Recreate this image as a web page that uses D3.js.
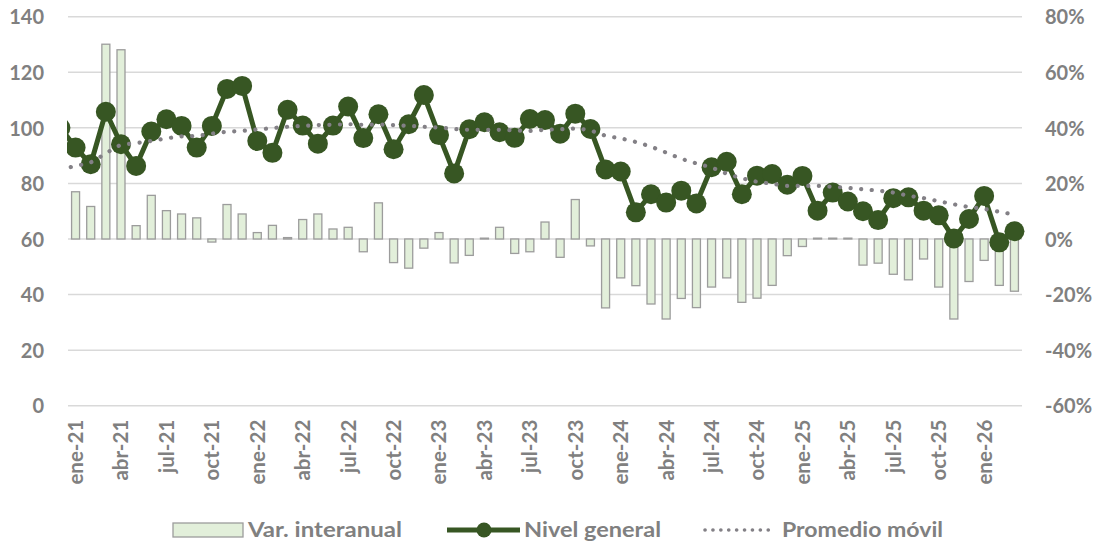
<!DOCTYPE html>
<html><head><meta charset="utf-8">
<script src="https://cdn.jsdelivr.net/npm/d3@7"></script>
<style>
body{margin:0;background:#fff;}
svg{display:block;}
text{font-family:Lato,"Open Sans",sans-serif;font-weight:700;fill:#808080;}
</style>
</head><body>
<svg id="chart" width="1101" height="544"></svg>
<script>
// ---- data ----
const months = [
 "ene-21","feb-21","mar-21","abr-21","may-21","jun-21","jul-21","ago-21","sep-21","oct-21","nov-21","dic-21",
 "ene-22","feb-22","mar-22","abr-22","may-22","jun-22","jul-22","ago-22","sep-22","oct-22","nov-22","dic-22",
 "ene-23","feb-23","mar-23","abr-23","may-23","jun-23","jul-23","ago-23","sep-23","oct-23","nov-23","dic-23",
 "ene-24","feb-24","mar-24","abr-24","may-24","jun-24","jul-24","ago-24","sep-24","oct-24","nov-24","dic-24",
 "ene-25","feb-25","mar-25","abr-25","may-25","jun-25","jul-25","ago-25","sep-25","oct-25","nov-25","dic-25",
 "ene-26","feb-26","mar-26"
];
const tickMonths = ["ene-21","abr-21","jul-21","oct-21","ene-22","abr-22","jul-22","oct-22","ene-23","abr-23","jul-23","oct-23",
 "ene-24","abr-24","jul-24","oct-24","ene-25","abr-25","jul-25","oct-25","ene-26"];

// Var. interanual (fraction)
const varInteranual = [
 0.170,0.117,0.701,0.681,0.048,0.157,0.102,0.090,0.076,-0.011,0.124,0.090,
 0.023,0.049,0.005,0.070,0.090,0.036,0.042,-0.046,0.130,-0.085,-0.105,-0.033,
 0.023,-0.086,-0.059,0.003,0.042,-0.052,-0.046,0.061,-0.066,0.142,-0.025,-0.248,
 -0.140,-0.168,-0.234,-0.288,-0.214,-0.247,-0.173,-0.140,-0.228,-0.213,-0.167,-0.060,
 -0.027,0.003,0.003,0.003,-0.094,-0.087,-0.127,-0.147,-0.072,-0.173,-0.288,-0.153,
 -0.077,-0.167,-0.188
];
// Nivel general
const nivelGeneral = [
 92.9,86.9,105.8,94.1,86.3,98.7,103.1,100.7,92.9,100.7,114.0,115.1,
 95.3,91.0,106.5,100.8,94.3,100.8,107.7,96.3,104.9,92.3,101.3,111.8,
 97.4,83.6,99.5,102.0,98.4,96.4,103.2,102.8,97.9,105.1,99.6,85.0,
 84.3,69.6,76.1,73.1,77.4,72.8,85.8,87.8,76.1,82.8,83.4,79.5,
 82.7,70.2,76.7,73.5,70.0,66.8,74.7,75.0,70.2,68.5,60.2,67.2,
 75.5,58.8,62.8
];
// Promedio móvil
const promedioMovil = [
 86.3,87.6,90.8,93.8,94.5,95.3,96.2,96.9,97.1,97.9,98.6,98.9,
 99.4,99.9,100.4,100.7,101.0,101.1,101.3,101.1,101.2,101.0,100.7,100.4,
 100.1,99.6,99.3,99.3,99.3,99.1,98.9,99.3,99.5,99.7,99.0,97.2,
 96.2,94.9,93.2,91.1,88.9,87.2,85.7,83.5,81.9,80.6,79.9,79.1,
 79.1,79.1,78.8,78.4,77.9,77.4,76.7,75.6,74.7,73.6,72.5,71.5,
 70.8,69.8,68.8
];
// month before the visible range (clipped at the left edge)
const prevMonth = "dic-20";
const prevNivel = 100;
const prevPromedio = 85;

const leftTicks = [0,20,40,60,80,100,120,140];
const rightTicks = [-0.6,-0.4,-0.2,0,0.2,0.4,0.6,0.8];
const legendLabels = ["Var. interanual","Nivel general","Promedio móvil"];

// ---- chart ----
const svg = d3.select("#chart");
const L = 68, R = 1022, T = 16.7, B = 405.7;
const green = "#375623", barFill = "#e2efda", barStroke = "#9c9c9c", maColor = "#838086", gridColor = "#d9d9d9";

const x = d3.scaleBand().domain(months).range([L, R]).padding(0);
const step = x.step();
const cx = m => m === prevMonth ? x(months[0]) - step / 2 : x(m) + step / 2;
const yL = d3.scaleLinear().domain([0, 140]).range([B, T]);
const yR = d3.scaleLinear().domain([-0.6, 0.8]).range([B, T]);

svg.append("defs").append("clipPath").attr("id","clip")
  .append("rect").attr("x", L - 1).attr("y", 0).attr("width", 1101 - L).attr("height", 544);

// gridlines
svg.append("g").selectAll("line").data(leftTicks).join("line")
  .attr("x1", L).attr("x2", R).attr("y1", d => yL(d)).attr("y2", d => yL(d))
  .attr("stroke", gridColor).attr("stroke-width", 1.5);

// axes
const ax = svg.append("g").attr("transform", `translate(${L},0)`)
  .call(d3.axisLeft(yL).tickValues(leftTicks).tickSize(0).tickPadding(24));
ax.select(".domain").remove();
ax.selectAll("text").style("font-size","20px").attr("dy","0.36em");

const ar = svg.append("g").attr("transform", `translate(${R},0)`)
  .call(d3.axisRight(yR).tickValues(rightTicks).tickSize(0).tickPadding(23)
    .tickFormat(d => Math.round(d * 100) + "%"));
ar.select(".domain").remove();
ar.selectAll("text").style("font-size","20px").attr("dy","0.36em");

const axb = svg.append("g").attr("transform", `translate(0,${B})`)
  .call(d3.axisBottom(x).tickValues(tickMonths).tickSize(0));
axb.select(".domain").remove();
axb.selectAll("text").style("font-size","20.5px")
  .attr("transform","rotate(-90)").attr("text-anchor","end")
  .attr("x", -14).attr("y", 0).attr("dy","0.36em");

// bars
const barW = 8;
svg.append("g").selectAll("rect").data(months).join("rect")
  .attr("x", (m) => cx(m) - barW / 2)
  .attr("y", (m, i) => yR(Math.max(0, varInteranual[i])))
  .attr("width", barW)
  .attr("height", (m, i) => Math.max(0.8, Math.abs(yR(varInteranual[i]) - yR(0))))
  .attr("fill", barFill).attr("stroke", barStroke).attr("stroke-width", 1.3);

// nivel general line
const linePts = [[prevMonth, prevNivel]].concat(months.map((m, i) => [m, nivelGeneral[i]]));
const gLine = svg.append("g").attr("clip-path","url(#clip)");
gLine.append("path").datum(linePts)
  .attr("d", d3.line().x(d => cx(d[0])).y(d => yL(d[1])))
  .attr("fill","none").attr("stroke", green).attr("stroke-width", 5).attr("stroke-linejoin","round");
gLine.selectAll("circle").data(linePts).join("circle")
  .attr("cx", d => cx(d[0])).attr("cy", d => yL(d[1])).attr("r", 10)
  .attr("fill", green);

// moving average
const maPts = [[prevMonth, prevPromedio]].concat(months.map((m, i) => [m, promedioMovil[i]]));
svg.append("g").attr("clip-path","url(#clip)").append("path").datum(maPts)
  .attr("d", d3.line().curve(d3.curveMonotoneX).x(d => cx(d[0])).y(d => yL(d[1])))
  .attr("fill","none").attr("stroke", maColor).attr("stroke-width", 4.2)
  .attr("stroke-linecap","round").attr("stroke-dasharray","0.1 10.5");

// legend
const lg = svg.append("g");
const ly = 530;
lg.append("rect").attr("x",173).attr("y",ly-7).attr("width",70).attr("height",14)
  .attr("fill", barFill).attr("stroke", barStroke).attr("stroke-width",1.3);
lg.append("text").attr("x",248).attr("y",ly).attr("dy","0.35em").style("font-size","20px")
  .attr("textLength",154).attr("lengthAdjust","spacingAndGlyphs").text(legendLabels[0]);
lg.append("line").attr("x1",447).attr("x2",520).attr("y1",ly).attr("y2",ly)
  .attr("stroke",green).attr("stroke-width",5);
lg.append("circle").attr("cx",484).attr("cy",ly).attr("r",7.5).attr("fill",green);
lg.append("text").attr("x",524).attr("y",ly).attr("dy","0.35em").style("font-size","20px")
  .attr("textLength",137).attr("lengthAdjust","spacingAndGlyphs").text(legendLabels[1]);
lg.append("line").attr("x1",705).attr("x2",776).attr("y1",ly).attr("y2",ly)
  .attr("stroke",maColor).attr("stroke-width",3.6).attr("stroke-linecap","round").attr("stroke-dasharray","0.1 7.8");
lg.append("text").attr("x",782).attr("y",ly).attr("dy","0.35em").style("font-size","20px")
  .attr("textLength",161).attr("lengthAdjust","spacingAndGlyphs").text(legendLabels[2]);
</script>
</body></html>
